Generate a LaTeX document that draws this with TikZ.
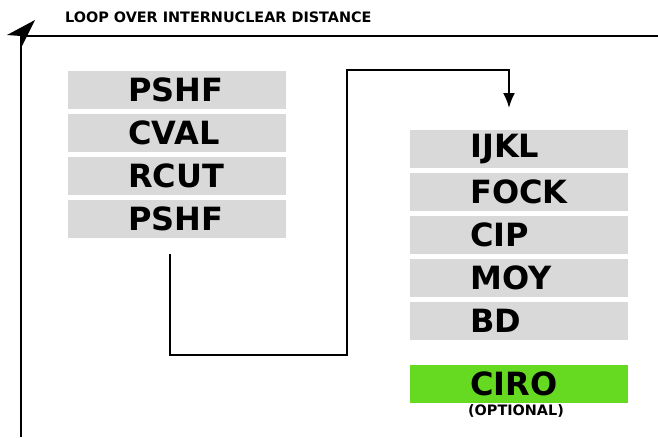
\documentclass[tikz,border=0pt]{standalone}
\usepackage{fontspec}
\setmainfont{DejaVu Sans}
\usetikzlibrary{arrows.meta}
\begin{document}
\begin{tikzpicture}[x=1pt,y=-1pt,
  blk/.style={fill=black!15,minimum width=218pt,minimum height=38pt,inner sep=0pt,anchor=north west},
  lbl/.style={font=\fontsize{32}{32}\selectfont\bfseries,anchor=west,inner sep=0pt},
  small/.style={font=\fontsize{14.4}{14.4}\selectfont\bfseries,inner sep=0pt},
  wire/.style={line width=2pt}]
\useasboundingbox (0,0) rectangle (658,437);
% loop frame
\coordinate (vb) at (21,437);
\coordinate (vt) at (21,36);
\coordinate (hr) at (658,36);
\draw[wire] (vb) -- (vt) -- (hr);
\fill (35,20) -- (7,35) -- (21,36) -- (21,48) -- cycle;
\node[small,anchor=west] (title) at (65,17) {LOOP OVER INTERNUCLEAR DISTANCE};
% left column
\foreach \n/\t/\y in {l1/PSHF/71,l2/CVAL/114,l3/RCUT/157,l4/PSHF/200}{
  \node[blk] (\n) at (68,\y) {};
  \node[lbl] at (128,\y+19) {\t};
}
% right column
\foreach \n/\t/\y in {r1/IJKL/130,r2/FOCK/173,r3/CIP/216,r4/MOY/259,r5/BD/302}{
  \node[blk] (\n) at (410,\y) {};
  \node[lbl] at (470,\y+19) {\t};
}
\node[blk,fill={rgb,255:red,102;green,217;blue,33}] (ciro) at (410,365) {};
\node[lbl] at (470,384) {CIRO};
\node[small] (opt) at (516,411) {(OPTIONAL)};
% connector
\coordinate (s) at (170,254);
\coordinate (e) at (509,108);
\draw[wire,-{Latex[length=15pt,width=12pt]}] (s) -- (170,355) -- (347,355) -- (347,70) -- (509,70) -- (e);
\end{tikzpicture}
\end{document}
